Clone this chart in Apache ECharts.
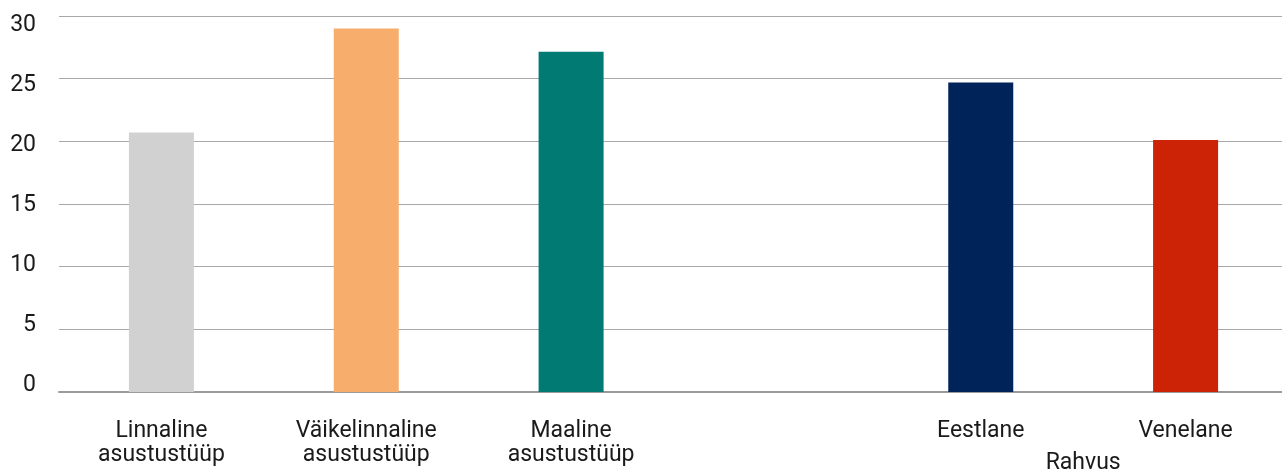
<!DOCTYPE html>
<html>
<head>
<meta charset="utf-8">
<script src="https://cdn.jsdelivr.net/npm/echarts@6/dist/echarts.min.js"></script>
<style>html,body{margin:0;padding:0;background:#fff}#c{width:1282px;height:473px}</style>
</head>
<body>
<div id="c"></div>
<script>
const categories = ['Linnaline\nasustustüüp', 'Väikelinnaline\nasustustüüp', 'Maaline\nasustustüüp', '', 'Eestlane', 'Venelane'];
const values = [20.7, 29.0, 27.15, null, 24.7, 20.1];
const barColors = ['#d0d1d0', '#f7ae6c', '#007a73', '#ffffff', '#002359', '#cc2206'];
const groupLabels = ['', '', '', '', '', 'Rahvus', ''];
const yTicks = [0, 5, 10, 15, 20, 25, 30];

const chart = echarts.init(document.getElementById('c'), null, {renderer: 'canvas'});
const font = 'Roboto, "Noto Sans", sans-serif';
chart.setOption({
  animation: false,
  backgroundColor: '#ffffff',
  grid: {left: 59, top: 16, right: -6, bottom: 81, containLabel: false, outerBoundsMode: 'none'},
  xAxis: [{
    type: 'category',
    data: categories,
    axisLine: {show: true, lineStyle: {color: '#9a9a9a', width: 2}},
    axisTick: {show: false},
    axisLabel: {interval: 0, margin: 27, fontFamily: font, fontSize: 23, lineHeight: 24, color: '#1a1a1a'}
  }, {
    type: 'category',
    data: groupLabels,
    boundaryGap: false,
    position: 'bottom',
    axisLine: {show: false},
    axisTick: {show: false},
    axisLabel: {interval: 0, margin: 60, fontFamily: font, fontSize: 23, color: '#1a1a1a'}
  }],
  yAxis: [{
    type: 'value',
    min: 0, max: 30, interval: 5,
    axisLine: {show: false},
    axisTick: {show: false},
    axisLabel: {show: false},
    splitLine: {show: true, lineStyle: {color: '#a8a8a8', width: 1}}
  }, {
    type: 'value',
    position: 'left',
    min: -0.583, max: 30.75,
    axisLine: {show: false},
    axisTick: {show: false},
    splitLine: {show: false},
    axisLabel: {customValues: yTicks, margin: 23, fontFamily: font, fontSize: 23, color: '#1a1a1a'}
  }],
  series: [{
    type: 'bar',
    xAxisIndex: 0,
    yAxisIndex: 0,
    barWidth: 65,
    data: values.map((v, i) => ({value: v, itemStyle: {color: barColors[i]}}))
  }]
});
</script>
</body>
</html>
